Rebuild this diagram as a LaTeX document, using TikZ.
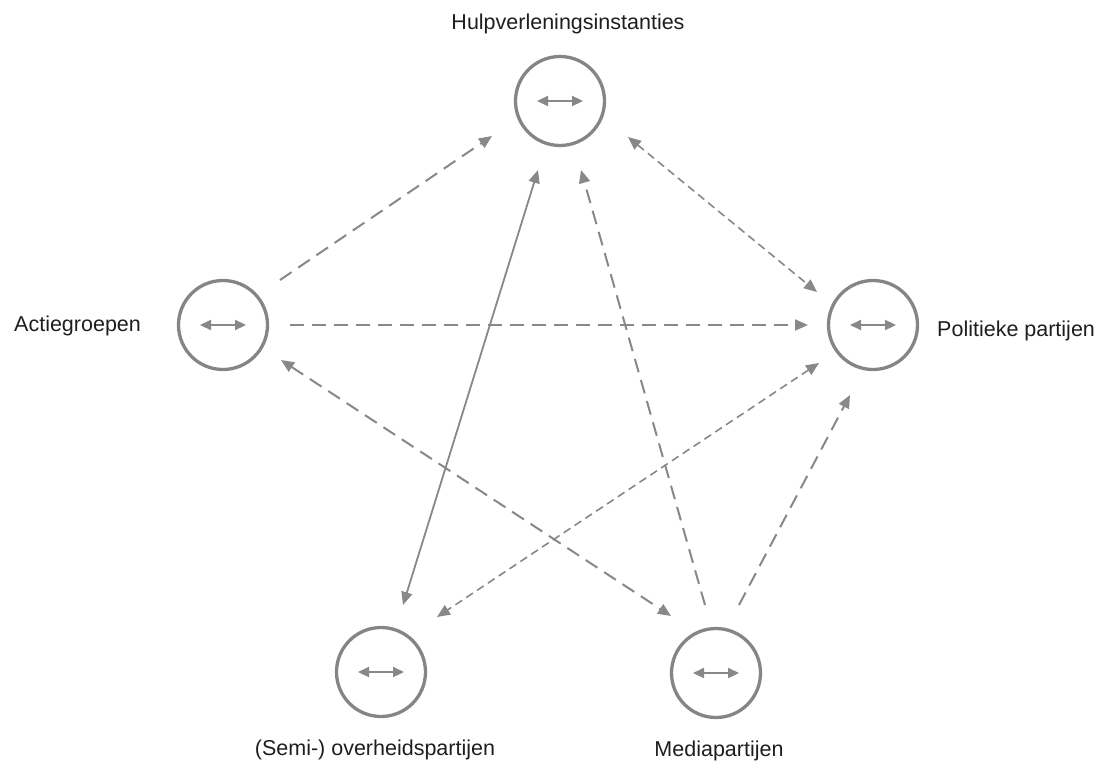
\documentclass[tikz,border=0pt]{standalone}
\usepackage{fontspec}
\setmainfont{Liberation Sans}
\usetikzlibrary{arrows.meta,calc}
\definecolor{edgegray}{HTML}{888888}
\definecolor{circgray}{HTML}{858585}
\definecolor{txtcol}{HTML}{1E1E1E}
\tikzset{ctip/.tip={Triangle[length=13pt,width=11pt]},
         itip/.tip={Triangle[length=11pt,width=10pt]}}
\begin{document}
\begin{tikzpicture}[x=1pt,y=-1pt,
  actor/.style={circle,draw=circgray,line width=3.3pt,minimum size=89pt,inner sep=0pt},
  lbl/.style={text=txtcol,font=\fontsize{21.5}{24}\selectfont,inner sep=0pt},
  inner/.style={draw=edgegray,line width=2.2pt,{itip}-{itip}},
  longdash/.style={draw=edgegray,line width=2pt,dash pattern=on 14pt off 8pt},
  finedash/.style={draw=edgegray,line width=1.6pt,dash pattern=on 8pt off 5pt},
  solidline/.style={draw=edgegray,line width=1.8pt}
]
\useasboundingbox (0,0) rectangle (1107,760);

% actors
\node[actor] (hulp)  at (560,101) {};
\node[actor] (actie) at (223,325) {};
\node[actor] (pol)   at (873,325) {};
\node[actor] (semi)  at (381,672) {};
\node[actor] (media) at (716,673) {};

% inner double arrows
\foreach \n in {hulp,actie,pol,semi,media}{
  \draw[inner] ($(\n)+(-23,0)$) -- ($(\n)+(23,0)$);
}

% labels
\node[lbl,anchor=base] (lhulp) at (568,30) {Hulpverleningsinstanties};
\node[lbl,anchor=base west] (lactie) at (14,331) {Actiegroepen};
\node[lbl,anchor=base west] (lpol) at (937,336) {Politieke partijen};
\node[lbl,anchor=base] (lsemi) at (375,755) {(Semi-) overheidspartijen};
\node[lbl,anchor=base] (lmedia) at (719,756) {Mediapartijen};

% connectors
\draw[longdash,-{ctip}] ($(actie)+(57,-45)$) -- ($(hulp)+(-68,35)$);
\draw[longdash,-{ctip}] ($(actie)+(67,0)$) -- ($(pol)+(-65,0)$);
\draw[finedash,{ctip}-{ctip}] ($(hulp)+(68,36)$) -- ($(pol)+(-56,-33)$);
\draw[solidline,{ctip}-{ctip}] ($(semi)+(22,-67)$) -- ($(hulp)+(-22,69)$);
\draw[longdash,-{ctip}] ($(media)+(-11,-68)$) -- ($(hulp)+(21,69)$);
\draw[longdash,-{ctip}] ($(media)+(23,-68)$) -- ($(pol)+(-23,70)$);
\draw[longdash,{ctip}-{ctip}] ($(actie)+(58,35)$) -- ($(media)+(-45,-57)$);
\draw[finedash,{ctip}-{ctip}] ($(pol)+(-54,38)$) -- ($(semi)+(56,-55)$);
\end{tikzpicture}
\end{document}
